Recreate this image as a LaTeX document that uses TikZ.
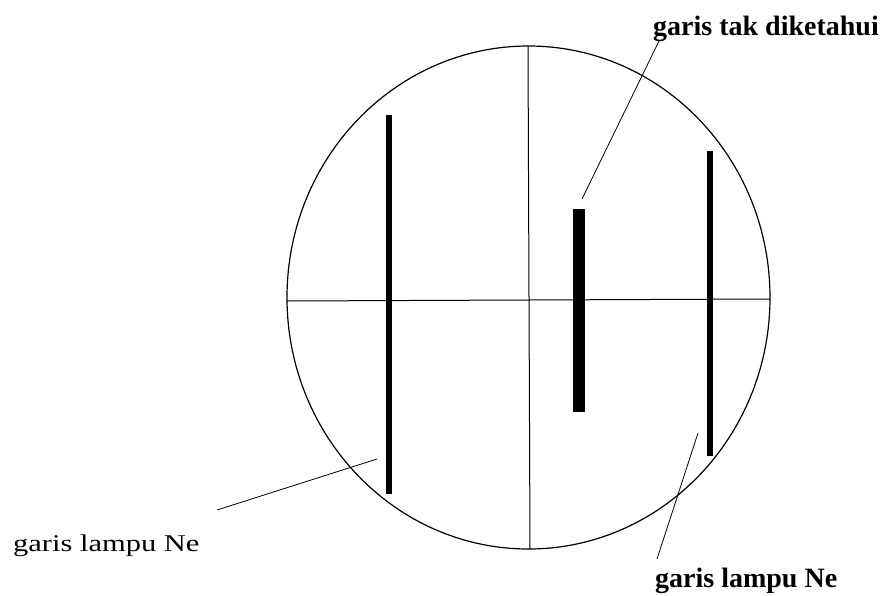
\documentclass[tikz,border=0pt]{standalone}
\usepackage{fontspec}
\setmainfont{Liberation Serif}
\begin{document}
\begin{tikzpicture}[x=1pt,y=-1pt,
  leader/.style={line width=0.8pt},
  cross/.style={line width=1pt},
  rim/.style={line width=1.2pt},
  bar/.style={fill=black},
  lblbold/.style={anchor=base west, inner sep=0pt, font=\fontsize{28}{32}\selectfont\bfseries},
  lblthin/.style={anchor=base west, inner sep=0pt, font=\fontsize{24}{28}\selectfont}]
\useasboundingbox (0,0) rectangle (887,595);
% field of view
\draw[rim] (528.5,297.5) ellipse [x radius=241.5pt, y radius=251.5pt];
\draw[cross] (287,301) -- (770,299);
\draw[cross] (528,46) -- (530,549);
% spectral lines
\fill[bar] (386,114.5) rectangle (392,494);
\fill[bar] (573,208.5) rectangle (585,412);
\fill[bar] (707,151) rectangle (713,456);
% labels
\node[lblbold] (ttop) at (653,35) {garis tak diketahui};
\node[lblthin] (tleft) at (13,551) {\scalebox{1.27}[1]{garis lampu Ne}};
\node[lblbold] (tright) at (655,587) {garis lampu Ne};
% leaders
\coordinate (a1) at (659,41);
\coordinate (b1) at (582,199);
\coordinate (a2) at (377,459);
\coordinate (b2) at (217,510);
\coordinate (a3) at (698,433);
\coordinate (b3) at (657,559);
\draw[leader] (a1) -- (b1);
\draw[leader] (a2) -- (b2);
\draw[leader] (a3) -- (b3);
\end{tikzpicture}
\end{document}
